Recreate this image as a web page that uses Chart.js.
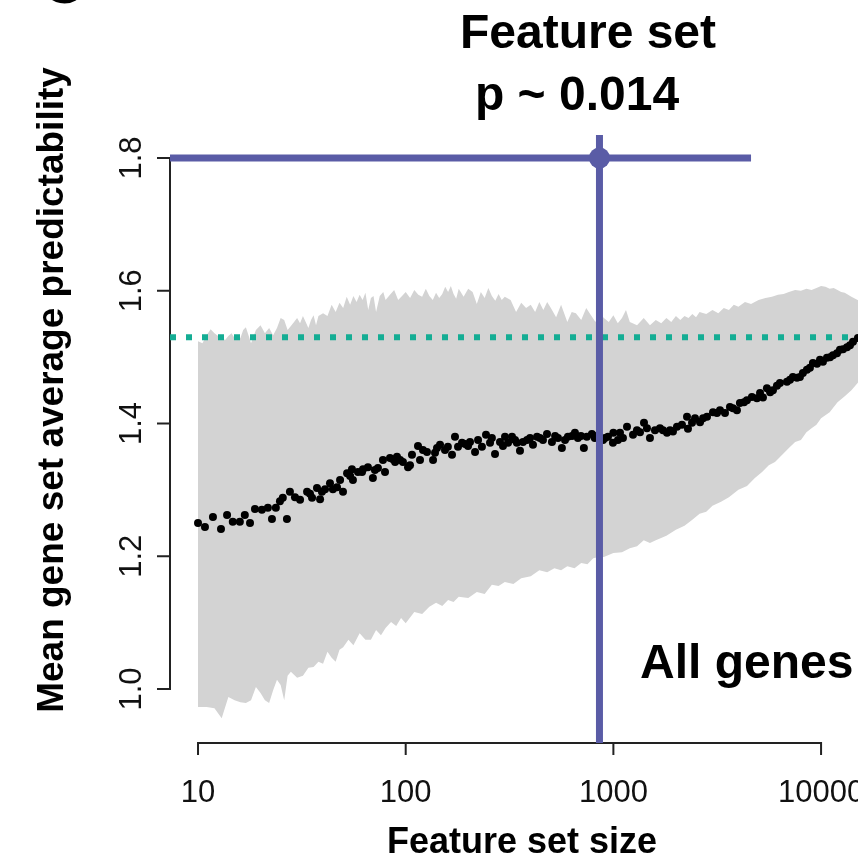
<!DOCTYPE html>
<html>
<head>
<meta charset="utf-8">
<script src="https://cdn.jsdelivr.net/npm/chart.js@4"></script>
<style>
  html, body { margin: 0; padding: 0; background: #ffffff; }
  #contenedor { width: 858px; height: 867px; }
</style>
</head>
<body>
<div id="contenedor"><canvas id="grafico" width="858" height="867"></canvas></div>
<script>
// ===========================================================
// datos (eje x logaritmico: tamaño del set)
// ===========================================================

// borde superior de la banda gris (nulo de sets aleatorios)
const banda_sup_x = [10, 10.5, 11, 11.5, 12, 12.5, 13, 13.5, 14, 14.5, 15, 15.5, 16, 16.5, 17, 17.5, 18, 19, 20, 21,
  22, 23, 24, 25, 26, 27, 28, 29, 30, 31, 32, 33, 34, 35, 36, 37, 38, 40, 42, 44, 46, 48, 50, 52, 54, 56, 58, 60,
  62, 64, 66, 68, 70, 72, 75, 78, 80, 84, 88, 92, 96, 100, 105, 110, 115, 120, 125, 130, 135, 140, 145, 150, 155,
  160, 165, 170, 175, 180, 190, 200, 210, 220, 230, 240, 250, 260, 270, 280, 290, 300, 320, 340, 360, 380, 400,
  420, 440, 460, 480, 500, 530, 560, 600, 630, 660, 700, 740, 780, 820, 860, 900, 950, 1000, 1050, 1100, 1150,
  1200, 1300, 1400, 1500, 1600, 1700, 1800, 1900, 2000, 2100, 2200, 2300, 2400, 2500, 2600, 2800, 3000, 3200,
  3400, 3600, 3800, 4000, 4300, 4600, 5000, 5400, 5800, 6200, 6600, 7000, 7500, 8000, 8500, 9000, 9500, 10000,
  10500, 11000, 11500, 12000, 12500, 13000, 14000, 15000, 16000];
const banda_sup_y = [1.524, 1.521, 1.533, 1.542, 1.536, 1.532, 1.529, 1.526, 1.532, 1.536, 1.529, 1.526, 1.529, 1.541,
  1.545, 1.533, 1.521, 1.541, 1.548, 1.536, 1.544, 1.533, 1.544, 1.559, 1.556, 1.541, 1.547, 1.553, 1.559, 1.551,
  1.562, 1.553, 1.544, 1.556, 1.563, 1.548, 1.562, 1.566, 1.562, 1.579, 1.568, 1.582, 1.574, 1.591, 1.579, 1.592,
  1.583, 1.594, 1.586, 1.597, 1.571, 1.589, 1.592, 1.568, 1.592, 1.598, 1.586, 1.594, 1.601, 1.586, 1.592, 1.598,
  1.589, 1.601, 1.594, 1.591, 1.603, 1.592, 1.586, 1.597, 1.589, 1.595, 1.606, 1.598, 1.607, 1.595, 1.588, 1.603,
  1.591, 1.603, 1.598, 1.580, 1.598, 1.589, 1.604, 1.592, 1.585, 1.595, 1.586, 1.591, 1.586, 1.568, 1.582, 1.574,
  1.579, 1.568, 1.583, 1.571, 1.583, 1.574, 1.560, 1.579, 1.553, 1.568, 1.566, 1.556, 1.574, 1.563, 1.553, 1.566,
  1.559, 1.553, 1.563, 1.551, 1.559, 1.571, 1.553, 1.548, 1.559, 1.548, 1.556, 1.551, 1.559, 1.553, 1.562, 1.556,
  1.562, 1.559, 1.565, 1.560, 1.568, 1.565, 1.571, 1.566, 1.574, 1.571, 1.579, 1.576, 1.583, 1.580, 1.586, 1.589,
  1.591, 1.594, 1.595, 1.598, 1.601, 1.600, 1.603, 1.601, 1.604, 1.607, 1.606, 1.603, 1.604, 1.601, 1.598, 1.597,
  1.591, 1.586, 1.582];

// borde inferior de la banda gris
const banda_inf_x = [10, 11, 12, 13, 14, 15, 16, 17, 18, 19, 20, 21, 22, 23, 24, 25, 26, 27, 28, 30, 32, 34, 36, 38,
  40, 42, 44, 46, 48, 50, 53, 56, 60, 64, 68, 72, 76, 80, 85, 90, 95, 100, 110, 120, 130, 140, 150, 160, 170, 180,
  200, 220, 240, 260, 280, 300, 330, 360, 400, 440, 480, 520, 560, 600, 650, 700, 750, 800, 850, 900, 1000, 1100,
  1200, 1300, 1400, 1500, 1600, 1800, 2000, 2200, 2400, 2600, 2800, 3000, 3300, 3600, 4000, 4400, 4800, 5200, 5600,
  6000, 6500, 7000, 7500, 8000, 8500, 9000, 9500, 10000, 11000, 12000, 13000, 14000, 15000, 16000];
const banda_inf_y = [0.973, 0.973, 0.971, 0.956, 0.988, 0.983, 0.980, 0.979, 0.983, 1.003, 0.994, 0.983, 0.979, 0.998,
  1.014, 1.006, 0.983, 1.020, 1.026, 1.017, 1.020, 1.032, 1.033, 1.041, 1.038, 1.056, 1.047, 1.041, 1.059, 1.063,
  1.074, 1.066, 1.084, 1.074, 1.074, 1.089, 1.081, 1.092, 1.101, 1.095, 1.107, 1.099, 1.116, 1.113, 1.124, 1.130,
  1.125, 1.134, 1.131, 1.139, 1.137, 1.146, 1.143, 1.157, 1.155, 1.161, 1.158, 1.167, 1.170, 1.179, 1.176, 1.182,
  1.179, 1.185, 1.182, 1.190, 1.188, 1.197, 1.199, 1.199, 1.205, 1.206, 1.212, 1.215, 1.224, 1.220, 1.224, 1.231,
  1.240, 1.246, 1.255, 1.264, 1.267, 1.276, 1.282, 1.289, 1.300, 1.306, 1.318, 1.327, 1.337, 1.342, 1.353, 1.363,
  1.372, 1.375, 1.387, 1.393, 1.398, 1.408, 1.417, 1.432, 1.441, 1.450, 1.461, 1.472];

// puntos negros: media observada por tamaño de set
const puntos_x = [10, 10.8, 11.8, 12.9, 13.8, 14.7, 15.9, 16.8, 17.8, 18.8, 20.3, 21.7, 22.7, 23.7, 24.8, 25.6, 26.8,
  27.7, 29.3, 31.0, 33.5, 34.6, 35.4, 37.4, 38.7, 39.5, 40.9, 43.2, 44.6, 46.7, 48.3, 49.9, 52.2, 54.0, 55.1, 55.7,
  58.9, 61.6, 62.3, 65.8, 69.5, 71.1, 73.5, 77.7, 79.5, 84.0, 86.8, 88.9, 90.8, 94.0, 97.0, 102.6, 104.9, 107.2,
  114.6, 117.2, 121.1, 126.6, 135.4, 138.4, 141.5, 146.3, 154.6, 159.6, 167.1, 172.7, 178.6, 186.7, 193.1, 199.6,
  204, 215.7, 223, 232.8, 243.6, 254.7, 260, 269.2, 284.4, 294, 300.7, 311, 325, 336, 343, 355, 367, 384, 397, 410,
  429, 443, 458, 479, 506, 524, 541, 565, 585, 604, 632, 653, 675, 698, 721, 745, 788, 814, 832, 891, 911, 942,
  995, 1000, 1052, 1076, 1112, 1163, 1243, 1299, 1343, 1404, 1451, 1500, 1586, 1676, 1733, 1812, 1874, 1936, 2024,
  2139, 2262, 2286, 2391, 2472, 2613, 2703, 2823, 3017, 3153, 3260, 3446, 3642, 3764, 3935, 4067, 4254, 4395, 4645,
  4910, 5083, 5250, 5487, 5685, 5865, 6130, 6338, 6850, 7086, 7318, 7652, 7910, 8176, 8548, 8838, 9138, 9560, 9881,
  10210, 10676, 11040, 11410, 11930, 12330, 12750, 13330, 13780, 14250, 15050];
const puntos_y = [1.250, 1.244, 1.259, 1.241, 1.262, 1.252, 1.252, 1.262, 1.250, 1.271, 1.270, 1.273, 1.256, 1.273,
  1.283, 1.288, 1.256, 1.297, 1.289, 1.285, 1.297, 1.294, 1.288, 1.303, 1.286, 1.297, 1.301, 1.310, 1.301, 1.304,
  1.315, 1.297, 1.325, 1.321, 1.331, 1.315, 1.327, 1.327, 1.331, 1.334, 1.318, 1.330, 1.333, 1.345, 1.327, 1.348,
  1.346, 1.342, 1.350, 1.345, 1.342, 1.334, 1.337, 1.353, 1.366, 1.345, 1.360, 1.357, 1.345, 1.356, 1.363, 1.368,
  1.360, 1.365, 1.353, 1.380, 1.365, 1.371, 1.369, 1.366, 1.372, 1.357, 1.375, 1.365, 1.383, 1.371, 1.378, 1.354,
  1.372, 1.366, 1.380, 1.371, 1.380, 1.375, 1.371, 1.359, 1.372, 1.375, 1.378, 1.368, 1.380, 1.378, 1.375, 1.384,
  1.372, 1.381, 1.378, 1.363, 1.375, 1.380, 1.381, 1.386, 1.378, 1.381, 1.363, 1.380, 1.384, 1.378, 1.381, 1.375,
  1.378, 1.380, 1.371, 1.386, 1.375, 1.386, 1.378, 1.395, 1.383, 1.390, 1.387, 1.401, 1.393, 1.378, 1.390, 1.393,
  1.390, 1.386, 1.390, 1.388, 1.395, 1.398, 1.410, 1.392, 1.401, 1.408, 1.402, 1.408, 1.410, 1.417, 1.416, 1.420,
  1.416, 1.425, 1.423, 1.420, 1.431, 1.432, 1.435, 1.440, 1.438, 1.446, 1.439, 1.453, 1.447, 1.450, 1.457, 1.461,
  1.463, 1.466, 1.470, 1.469, 1.470, 1.476, 1.481, 1.484, 1.491, 1.490, 1.496, 1.493, 1.499, 1.500, 1.503, 1.506,
  1.511, 1.512, 1.515, 1.518, 1.523, 1.529];

// linea punteada turquesa: valor de "all genes"
const valor_all_genes = 1.53;

// feature set: tamaño, valor y rango horizontal
const feature_set_tamano = 857;
const feature_set_valor = 1.8;
const feature_set_rango = [7.33, 4600];

// ticks de los ejes
const ticks_x = [10, 100, 1000, 10000];
const etiquetas_x = ['10', '100', '1000', '10000'];
const ticks_y = [1.0, 1.2, 1.4, 1.6, 1.8];
const etiquetas_y = ['1.0', '1.2', '1.4', '1.6', '1.8'];

// textos
const titulo = ['Feature set', 'p ~ 0.014'];
const titulo_x = 'Feature set size';
const titulo_y = 'Mean gene set average predictability';
const texto_panel = 'All genes';

// limites de la region del grafico (como en R, un poco mas alla de los datos)
const x_min = 7.33, x_max = 15060;
const y_min = 0.9186, y_max = 1.8347;

const fuente = '"Liberation Sans", Arial, Helvetica, sans-serif';
const morado = '#5a5ca6';
const turquesa = '#14ad94';


// -----------------------------------------------------------
// plugin: dibuja los ejes estilo R y los textos
// -----------------------------------------------------------
const ejes_r = {
    id: 'ejes_r',
    beforeDatasetsDraw(chart) {
        const ctx = chart.ctx;
        const ex = chart.scales.x;
        const ey = chart.scales.y;
        const area = chart.chartArea;

        ctx.save();
        ctx.strokeStyle = '#222222';
        ctx.lineWidth = 2;

        // eje y, solo entre el primer y el ultimo tick
        const x0 = area.left;
        ctx.beginPath();
        ctx.moveTo(x0, ey.getPixelForValue(ticks_y[0]) + 1);
        ctx.lineTo(x0, ey.getPixelForValue(ticks_y[ticks_y.length - 1]) - 1);
        ticks_y.forEach(v => {
            const p = ey.getPixelForValue(v);
            ctx.moveTo(x0 - 13, p);
            ctx.lineTo(x0 + 1, p);
        });
        ctx.stroke();

        // eje x
        const y0 = area.bottom;
        ctx.beginPath();
        ctx.moveTo(ex.getPixelForValue(ticks_x[0]) - 1, y0);
        ctx.lineTo(ex.getPixelForValue(ticks_x[ticks_x.length - 1]) + 1, y0);
        ticks_x.forEach(v => {
            const p = ex.getPixelForValue(v);
            ctx.moveTo(p, y0 - 1);
            ctx.lineTo(p, y0 + 12);
        });
        ctx.stroke();
        ctx.restore();
    },
    afterDraw(chart) {
        const ctx = chart.ctx;
        const ex = chart.scales.x;
        const ey = chart.scales.y;

        ctx.save();
        ctx.fillStyle = '#111111';

        // etiquetas del eje x
        ctx.font = '31px ' + fuente;
        ctx.textAlign = 'center';
        ctx.textBaseline = 'alphabetic';
        ticks_x.forEach((v, i) => {
            ctx.fillText(etiquetas_x[i], ex.getPixelForValue(v), 802);
        });

        // etiquetas del eje y (giradas, como en R)
        ticks_y.forEach((v, i) => {
            ctx.save();
            ctx.translate(141, ey.getPixelForValue(v));
            ctx.rotate(-Math.PI / 2);
            ctx.fillText(etiquetas_y[i], 0, 0);
            ctx.restore();
        });

        // titulos de los ejes
        ctx.fillStyle = '#000000';
        ctx.font = 'bold 36px ' + fuente;
        ctx.fillText(titulo_x, 522, 853);

        ctx.save();
        ctx.translate(63, 390);
        ctx.rotate(-Math.PI / 2);
        ctx.font = 'bold 37px ' + fuente;
        ctx.fillText(titulo_y, 0, 0);
        ctx.restore();

        // titulo de arriba (dos lineas)
        ctx.font = 'bold 48px ' + fuente;
        ctx.fillText(titulo[0], 588, 48);
        ctx.fillText(titulo[1], 577, 110);

        // texto dentro del panel
        ctx.textAlign = 'left';
        ctx.fillText(texto_panel, 640, 678);

        // letra del panel, cortada arriba
        ctx.textAlign = 'center';
        ctx.font = 'bold 58px ' + fuente;
        ctx.fillText('C', 63, 3);

        ctx.restore();
    }
};


// -----------------------------------------------------------
// se arma el grafico
// -----------------------------------------------------------
const a_puntos = (xs, ys) => xs.map((x, i) => ({ x: x, y: ys[i] }));

new Chart(document.getElementById('grafico').getContext('2d'), {
    type: 'scatter',
    data: {
        datasets: [
            {
                // borde superior de la banda
                data: a_puntos(banda_sup_x, banda_sup_y),
                showLine: true,
                borderWidth: 0,
                borderColor: 'rgba(0,0,0,0)',
                pointRadius: 0,
                fill: false,
                tension: 0,
                order: 10
            },
            {
                // borde inferior, rellena hasta el superior
                data: a_puntos(banda_inf_x, banda_inf_y),
                showLine: true,
                borderWidth: 0,
                borderColor: 'rgba(0,0,0,0)',
                backgroundColor: '#d3d3d3',
                pointRadius: 0,
                fill: '-1',
                tension: 0,
                order: 9
            },
            {
                // linea punteada de all genes
                data: [{ x: x_min, y: valor_all_genes }, { x: x_max, y: valor_all_genes }],
                showLine: true,
                borderColor: turquesa,
                borderWidth: 6,
                borderDash: [6, 10],
                borderCapStyle: 'butt',
                pointRadius: 0,
                order: 5
            },
            {
                // medias observadas
                data: a_puntos(puntos_x, puntos_y),
                showLine: false,
                pointRadius: 4,
                pointBorderWidth: 0,
                pointBackgroundColor: '#000000',
                backgroundColor: '#000000',
                order: 4
            },
            {
                // rango horizontal del feature set
                data: [{ x: feature_set_rango[0], y: feature_set_valor }, { x: feature_set_rango[1], y: feature_set_valor }],
                showLine: true,
                borderColor: morado,
                borderWidth: 7,
                borderCapStyle: 'butt',
                pointRadius: 0,
                order: 3
            },
            {
                // linea vertical del feature set (abline)
                data: [{ x: feature_set_tamano, y: y_min }, { x: feature_set_tamano, y: y_max }],
                showLine: true,
                borderColor: morado,
                borderWidth: 7,
                borderCapStyle: 'butt',
                pointRadius: 0,
                order: 2
            },
            {
                // punto del feature set
                data: [{ x: feature_set_tamano, y: feature_set_valor }],
                showLine: false,
                pointRadius: 10.5,
                pointBorderWidth: 0,
                pointBackgroundColor: morado,
                backgroundColor: morado,
                order: 1
            }
        ]
    },
    options: {
        responsive: false,
        animation: false,
        devicePixelRatio: 1,
        layout: { autoPadding: false, padding: { left: 170, right: 0, top: 135, bottom: 124 } },
        plugins: {
            legend: { display: false },
            tooltip: { enabled: false }
        },
        scales: {
            x: { type: 'logarithmic', min: x_min, max: x_max, display: false },
            y: { type: 'linear', min: y_min, max: y_max, display: false }
        }
    },
    plugins: [ejes_r]
});
</script>
</body>
</html>
